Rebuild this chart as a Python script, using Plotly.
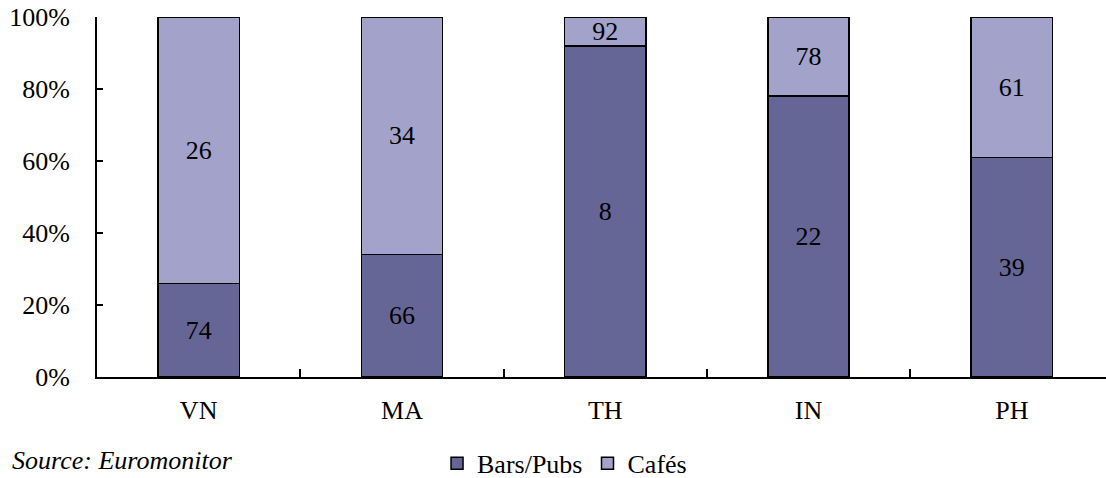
import plotly.graph_objects as go

# Category labels and the shares printed on each segment (%)
categories = ["VN", "MA", "TH", "IN", "PH"]
bars_pubs = [74, 66, 8, 22, 39]
cafes = [26, 34, 92, 78, 61]
y_ticks = [0, 20, 40, 60, 80, 100]
y_tick_labels = ["0%", "20%", "40%", "60%", "80%", "100%"]

# Segment heights: each segment spans the remainder of its printed share
bars_height = [100 - v for v in bars_pubs]
cafes_height = [100 - v for v in cafes]

DARK = "#666696"
LIGHT = "#A2A2CB"
FONT = "Liberation Serif"
SIZE = 26

fig = go.Figure()
fig.add_trace(go.Bar(
    x=categories, y=bars_height, name="Bars/Pubs",
    marker=dict(color=DARK, line=dict(color="black", width=1.5)),
    text=bars_pubs, textposition="inside", insidetextanchor="middle",
    textangle=0, textfont=dict(family=FONT, size=SIZE, color="black"),
    width=0.40,
))
fig.add_trace(go.Bar(
    x=categories, y=cafes_height, name="Cafés",
    marker=dict(color=LIGHT, line=dict(color="black", width=1.5)),
    text=cafes, textposition="inside", insidetextanchor="middle",
    textangle=0, textfont=dict(family=FONT, size=SIZE, color="black"),
    width=0.40,
))

fig.update_layout(
    barmode="stack",
    width=1106, height=478,
    margin=dict(l=97, r=0, t=17, b=101, autoexpand=False),
    plot_bgcolor="white", paper_bgcolor="white",
    font=dict(family=FONT, size=SIZE, color="black"),
    uniformtext=dict(minsize=SIZE, mode="show"),
    showlegend=True,
    legend=dict(
        orientation="h", x=0.337, xanchor="left", y=-0.24, yanchor="middle",
        font=dict(family=FONT, size=SIZE, color="black"),
        itemwidth=30, tracegroupgap=0, traceorder="normal",
    ),
    xaxis=dict(
        range=[-0.5, 4.463], showline=True, linecolor="black", linewidth=2,
        ticks="inside", tickson="boundaries", ticklen=8, tickcolor="black",
        tickwidth=1.5, showgrid=False, zeroline=False,
        tickfont=dict(family=FONT, size=SIZE, color="black"),
        ticklabelstandoff=9,
    ),
    yaxis=dict(
        range=[0, 100], tickmode="array", tickvals=y_ticks, ticktext=y_tick_labels,
        showline=True, linecolor="black", linewidth=2,
        ticks="inside", ticklen=6, tickcolor="black", tickwidth=1.5,
        showgrid=False, zeroline=False,
        tickfont=dict(family=FONT, size=SIZE, color="black"),
        ticklabelstandoff=20,
    ),
    annotations=[dict(
        text="<i>Source: Euromonitor</i>", xref="paper", yref="paper",
        x=-0.0862, y=-0.279, xanchor="left", yanchor="bottom", showarrow=False,
        font=dict(family=FONT, size=SIZE, color="black"),
    )],
)

fig.write_html("out.html")
